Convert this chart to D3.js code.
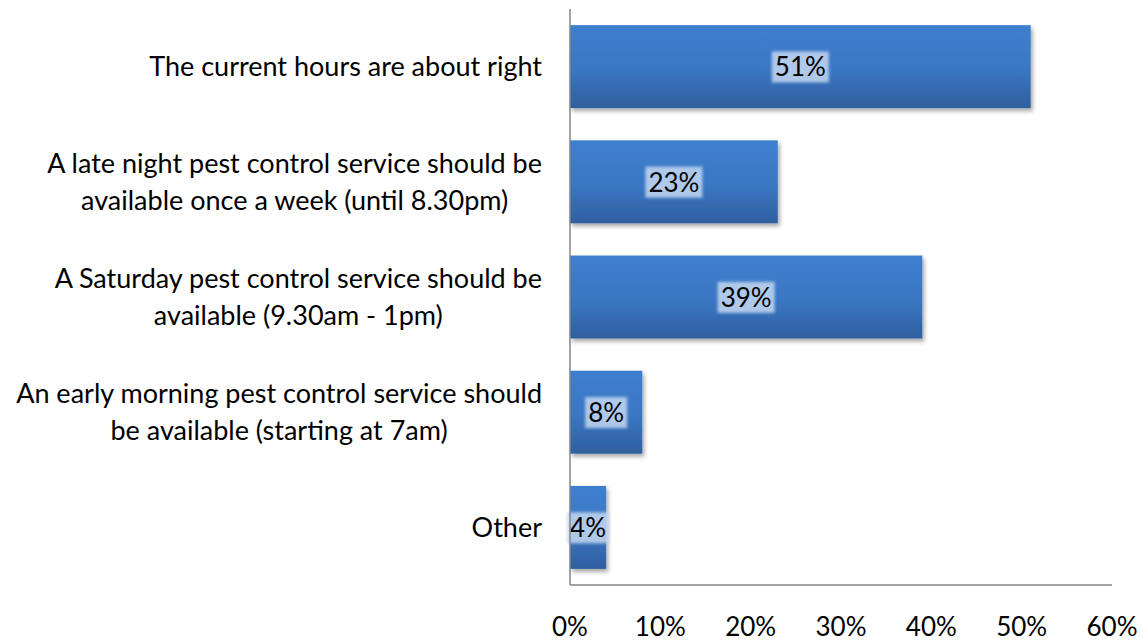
<!DOCTYPE html>
<html>
<head>
<meta charset="utf-8">
<script src="https://cdn.jsdelivr.net/npm/d3@7"></script>
<style>
  body { margin: 0; background: #fff; }
  svg text { font-family: Lato, "Open Sans", sans-serif; fill: #000; }
</style>
</head>
<body>
<svg id="chart" width="1143" height="643"></svg>
<script>
const categories = [
  ["The current hours are about right"],
  ["A late night pest control service should be", "available once a week (until 8.30pm)"],
  ["A Saturday pest control service should be", "available (9.30am - 1pm)"],
  ["An early morning pest control service should", "be available (starting at 7am)"],
  ["Other"]
];
const values = [51, 23, 39, 8, 4];
const ticks = [0, 10, 20, 30, 40, 50, 60];

const plotLeft = 570, plotRight = 1112, plotTop = 9, plotBottom = 585;
const svg = d3.select("#chart");

const defs = svg.append("defs");
const grad = defs.append("linearGradient").attr("id", "barGrad")
  .attr("x1", 0).attr("y1", 0).attr("x2", 0).attr("y2", 1);
grad.append("stop").attr("offset", "0%").attr("stop-color", "#3e7fcf");
grad.append("stop").attr("offset", "55%").attr("stop-color", "#3a76c2");
grad.append("stop").attr("offset", "100%").attr("stop-color", "#2f5f9e");
const shadow = defs.append("filter").attr("id", "shadow")
  .attr("x", "-10%").attr("y", "-10%").attr("width", "130%").attr("height", "140%");
shadow.append("feDropShadow").attr("dx", 2).attr("dy", 3).attr("stdDeviation", 2)
  .attr("flood-color", "#000").attr("flood-opacity", 0.35);
const soft = defs.append("filter").attr("id", "soft");
soft.append("feGaussianBlur").attr("stdDeviation", 1.5);

const x = d3.scaleLinear().domain([0, 60]).range([plotLeft, plotRight]);
const y = d3.scaleBand().domain(d3.range(values.length)).range([plotTop, plotBottom])
  .paddingInner(0.28).paddingOuter(0.14);

// bars
svg.selectAll("rect.bar")
  .data(values)
  .enter()
  .append("rect")
  .attr("class", "bar")
  .attr("x", x(0))
  .attr("y", (d, i) => y(i))
  .attr("width", d => x(d) - x(0))
  .attr("height", y.bandwidth())
  .attr("fill", "url(#barGrad)")
  .attr("filter", "url(#shadow)");

// value labels with light box
const lbl = svg.selectAll("g.val")
  .data(values)
  .enter()
  .append("g")
  .attr("class", "val")
  .attr("transform", (d, i) => `translate(${(x(d) + x(0)) / 2},${y(i) + y.bandwidth() / 2})`);
lbl.append("text")
  .attr("text-anchor", "middle")
  .attr("dy", "0.38em")
  .style("font-size", "26px")
  .text(d => d + "%");
lbl.each(function () {
  const g = d3.select(this);
  const b = g.select("text").node().getBBox();
  g.insert("rect", "text")
    .attr("x", b.x - 3).attr("y", b.y + 1)
    .attr("width", b.width + 6).attr("height", b.height - 1)
    .attr("fill", "#c4d8f1").attr("opacity", 0.85)
    .attr("filter", "url(#soft)");
});

// category labels
const cat = svg.selectAll("text.cat")
  .data(categories)
  .enter()
  .append("text")
  .attr("class", "cat")
  .attr("text-anchor", "middle")
  .style("font-size", "27px");
cat.each(function (lines, i) {
  const t = d3.select(this);
  const cy = y(i) + y.bandwidth() / 2;
  const n = lines.length;
  lines.forEach((s, k) => {
    t.append("tspan")
      .attr("y", cy + (k - (n - 1) / 2) * 37)
      .attr("dy", "0.35em")
      .text(s);
  });
  // right-align the block, center lines within it
  const lens = t.selectAll("tspan").nodes().map(n => n.getComputedTextLength());
  const w = d3.max(lens);
  t.selectAll("tspan").attr("x", 542 - w / 2);
});

// axes lines
svg.append("line").attr("x1", plotLeft).attr("x2", plotLeft).attr("y1", plotTop).attr("y2", plotBottom)
  .attr("stroke", "#868686").attr("stroke-width", 1.5);
svg.append("line").attr("x1", plotLeft).attr("x2", plotRight).attr("y1", plotBottom).attr("y2", plotBottom)
  .attr("stroke", "#868686").attr("stroke-width", 1.5);

// tick labels
svg.selectAll("text.tick")
  .data(ticks)
  .enter()
  .append("text")
  .attr("class", "tick")
  .attr("x", d => x(d))
  .attr("y", 636)
  .attr("text-anchor", "middle")
  .style("font-size", "26px")
  .text(d => d + "%");
</script>
</body>
</html>
